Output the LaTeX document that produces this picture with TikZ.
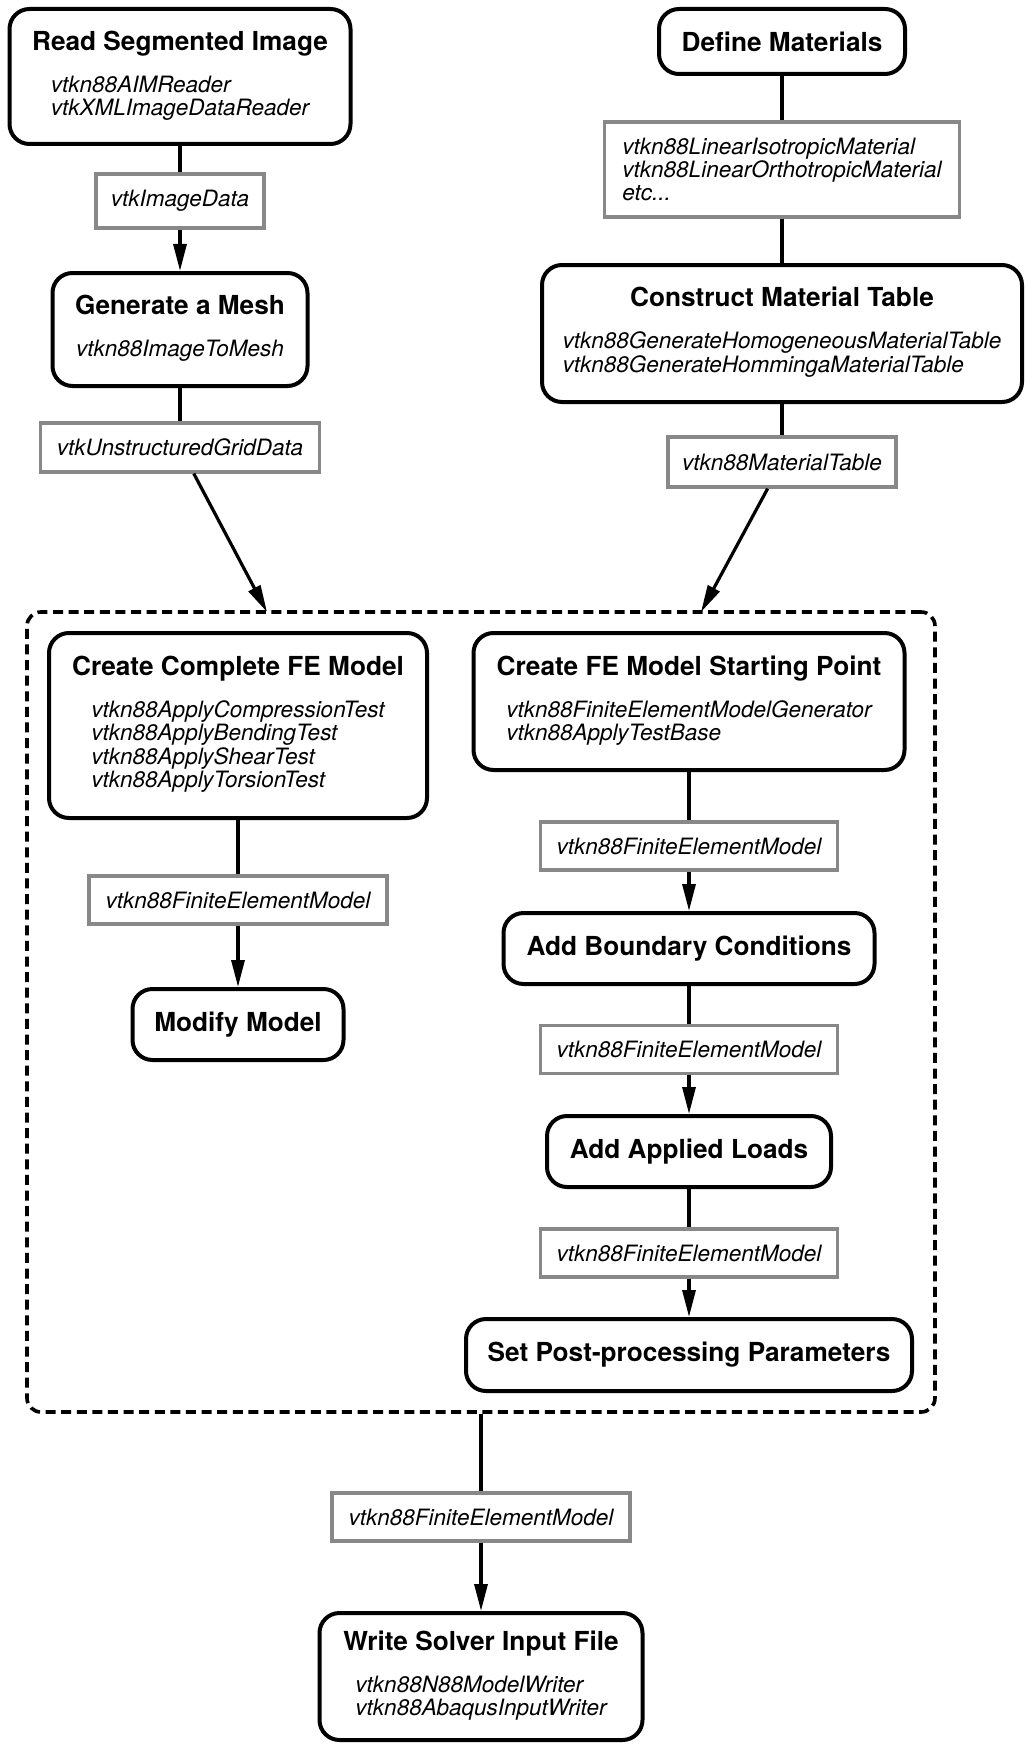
\documentclass[tikz,border=0pt]{standalone}
\usepackage{fontspec}
\setmainfont{TeX Gyre Heros}
\usetikzlibrary{arrows.meta, positioning}
\definecolor{datagray}{HTML}{888888}

\newcommand{\classlist}[1]{{\mdseries\itshape\fontsize{11.25}{11.5}\selectfont\begin{tabular}[t]{@{}l@{}}#1\end{tabular}}}

\begin{document}
\begin{tikzpicture}[x=0.5pt, y=-0.5pt]
    \tikzstyle{stage} = [rectangle, rounded corners=10pt, draw=black, line width=2pt, align=center, inner sep=0pt, font=\fontsize{13.1}{21}\selectfont\bfseries]
    \tikzstyle{dataobj} = [rectangle, draw=datagray, line width=1.6pt, fill=white, align=left, inner sep=0pt, font=\fontsize{11.25}{11.5}\selectfont\itshape]
    \tikzstyle{group} = [rectangle, rounded corners=7pt, draw=black, line width=1.8pt, dash pattern=on 5pt off 2.8pt]
    \tikzstyle{line} = [line width=1.6pt]
    \tikzstyle{arrow} = [line width=1.6pt, -{Triangle[length=13.5pt, width=6.5pt]}]

    \useasboundingbox (0,0) rectangle (1024,1744);

    % image branch
    \node[stage, minimum width=170.5pt, minimum height=67.5pt] (readimg) at (180,76.5) {Read Segmented Image\\\classlist{vtkn88AIMReader\\vtkXMLImageDataReader}};
    \node[dataobj, minimum width=84pt, minimum height=27pt] (imgdata) at (180,201) {vtkImageData};
    \node[stage, minimum width=127.5pt, minimum height=56.5pt] (mesh) at (180,329.5) {Generate a Mesh\\\classlist{vtkn88ImageToMesh}};
    \node[dataobj, minimum width=139.5pt, minimum height=24.5pt] (ugrid) at (180,447.5) {vtkUnstructuredGridData};

    % material branch
    \node[stage, minimum width=123pt, minimum height=32.5pt] (defmat) at (782,41.5) {Define Materials};
    \node[dataobj, minimum width=177.5pt, minimum height=47.5pt] (matlist) at (782,169.5) {vtkn88LinearIsotropicMaterial\\vtkn88LinearOrthotropicMaterial\\etc...};
    \node[stage, minimum width=240pt, minimum height=68.5pt] (mattable) at (782,333.5) {Construct Material Table\\\classlist{vtkn88GenerateHomogeneousMaterialTable\\vtkn88GenerateHommingaMaterialTable}};
    \node[dataobj, minimum width=114pt, minimum height=25pt] (mtable) at (782,462) {vtkn88MaterialTable};

    % model generation
    \node[group, minimum width=454pt, minimum height=400pt] (femodel) at (481,1012) {};
    \coordinate (meshin) at (267,612);
    \coordinate (matin) at (701,612);

    \node[stage, minimum width=189pt, minimum height=92.5pt] (complete) at (238,725.5) {Create Complete FE Model\\\classlist{vtkn88ApplyCompressionTest\\vtkn88ApplyBendingTest\\vtkn88ApplyShearTest\\vtkn88ApplyTorsionTest}};
    \node[dataobj, minimum width=149pt, minimum height=24pt] (femA) at (238,900) {vtkn88FiniteElementModel};
    \node[stage, minimum width=105.5pt, minimum height=35.5pt] (modify) at (238,1024.5) {Modify Model};

    \node[stage, minimum width=215.5pt, minimum height=68.5pt] (start) at (689,701.5) {Create FE Model Starting Point\\\classlist{vtkn88FiniteElementModelGenerator\\vtkn88ApplyTestBase}};
    \node[dataobj, minimum width=148.5pt, minimum height=24pt] (femB) at (689,846) {vtkn88FiniteElementModel};
    \node[stage, minimum width=185.5pt, minimum height=35.5pt] (bcs) at (689,948.5) {Add Boundary Conditions};
    \node[dataobj, minimum width=148.5pt, minimum height=24pt] (femC) at (689,1049.5) {vtkn88FiniteElementModel};
    \node[stage, minimum width=142pt, minimum height=35.5pt] (loads) at (689,1151.5) {Add Applied Loads};
    \node[dataobj, minimum width=148.5pt, minimum height=24pt] (femD) at (689,1253) {vtkn88FiniteElementModel};
    \node[stage, minimum width=223pt, minimum height=36pt] (post) at (689,1355) {Set Post-processing Parameters};

    % output
    \node[dataobj, minimum width=149pt, minimum height=24pt] (femE) at (481,1517) {vtkn88FiniteElementModel};
    \node[stage, minimum width=161.5pt, minimum height=63.5pt] (writer) at (481,1676.5) {Write Solver Input File\\\classlist{vtkn88N88ModelWriter\\vtkn88AbaqusInputWriter}};

    \draw[line] (readimg) -- (imgdata);
    \draw[arrow] (imgdata) -- (mesh);
    \draw[line] (mesh) -- (ugrid);
    \draw[arrow] (ugrid) -- (meshin);

    \draw[line] (defmat) -- (matlist);
    \draw[line] (matlist) -- (mattable);
    \draw[line] (mattable) -- (mtable);
    \draw[arrow] (mtable) -- (matin);

    \draw[line] (complete) -- (femA);
    \draw[arrow] (femA) -- (modify);

    \draw[line] (start) -- (femB);
    \draw[arrow] (femB) -- (bcs);
    \draw[line] (bcs) -- (femC);
    \draw[arrow] (femC) -- (loads);
    \draw[line] (loads) -- (femD);
    \draw[arrow] (femD) -- (post);

    \draw[line] (femodel.south) -- (femE);
    \draw[arrow] (femE) -- (writer);
\end{tikzpicture}
\end{document}
